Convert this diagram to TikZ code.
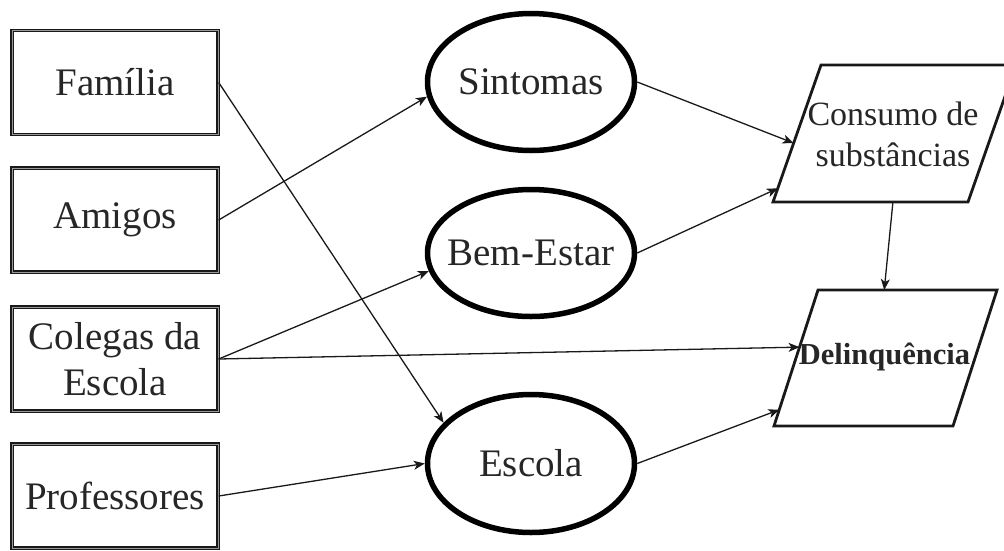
\documentclass[tikz,border=0pt]{standalone}
\usepackage{fontspec}
\setmainfont{Liberation Serif}
\usetikzlibrary{shapes.geometric,arrows.meta,calc}
\tikzset{
  box/.style={draw=black!90, double=black!40, double distance=1pt, line width=1.4pt,
    minimum width=206pt, minimum height=104pt, inner sep=0pt, align=center,
    text=black!85, font=\fontsize{39}{46}\selectfont},
  ell/.style={draw=black, line width=5.5pt, ellipse, minimum width=207pt, inner sep=0pt},
  elltext/.style={text=black!85, font=\fontsize{39}{46}\selectfont, inner sep=0pt},
  paraline/.style={draw=black!90, line width=2.8pt, line join=miter},
  paratext/.style={inner sep=0pt, align=center, text=black!85},
  conn/.style={-{Stealth[length=11pt,width=9pt,inset=3pt]}, line width=1.3pt, draw=black!90},
}
\begin{document}
\begin{tikzpicture}[x=1pt,y=-1pt]
\useasboundingbox (0,0) rectangle (1004,550);
% left boxes
\node[box] (fam)  at (115,82.5) {Família};
\node[box] (ami)  at (115,220) {Amigos};
\node[box] (col)  at (115,359) {Colegas da\\Escola};
\node[box] (prof) at (115,496) {Professores};
% ellipses
\node[ell, minimum height=137pt, label={[elltext, name=sinT]center:Sintomas}] (sin) at (531,82) {};
\node[ell, minimum height=127pt, label={[elltext, name=bemT]center:Bem-Estar}] (bem) at (531,253) {};
\node[ell, minimum height=138pt, label={[elltext, name=escT]center:Escola}] (esc) at (531,463.5) {};
% parallelogram corners
\coordinate (cBL) at (773,202);
\coordinate (cTL) at (821,65);
\coordinate (cTR) at (1016,65);
\coordinate (cBR) at (968,202);
\coordinate (dBL) at (774,426);
\coordinate (dTL) at (818,290);
\coordinate (dTR) at (997,290);
\coordinate (dBR) at (953,426);
\draw[paraline] (cBL) -- (cTL) -- (cTR) -- (cBR) -- cycle;
\draw[paraline] (dBL) -- (dTL) -- (dTR) -- (dBR) -- cycle;
\node[paratext, font=\fontsize{34}{41}\selectfont] (cons) at (893,134) {Consumo de\\substâncias};
\node[paratext, font=\bfseries\fontsize{30.5}{36}\selectfont] (del) at (884.5,357) {Delinquência};
% connector ends on parallelogram edges
\coordinate (consA) at ($(cBL)!0.43!(cTL)$);
\coordinate (consB) at ($(cBL)!0.10!(cTL)$);
\coordinate (consC) at ($(cBL)!0.615!(cBR)$);
\coordinate (delA)  at ($(dBL)!0.58!(dTL)$);
\coordinate (delB)  at ($(dBL)!0.12!(dTL)$);
\coordinate (delC)  at ($(dTL)!0.37!(dTR)$);
% connectors
\draw[conn] (fam.east) -- (esc.155);
\draw[conn] (ami.east) -- (sin.188);
\draw[conn] (col.east) -- (bem.190);
\draw[conn] (col.east) -- (delA);
\draw[conn] (prof.east) -- (esc.west);
\draw[conn] (sin.east) -- (consA);
\draw[conn] (bem.east) -- (consB);
\draw[conn] (esc.east) -- (delB);
\draw[conn] (consC) -- (delC);
\end{tikzpicture}
\end{document}
